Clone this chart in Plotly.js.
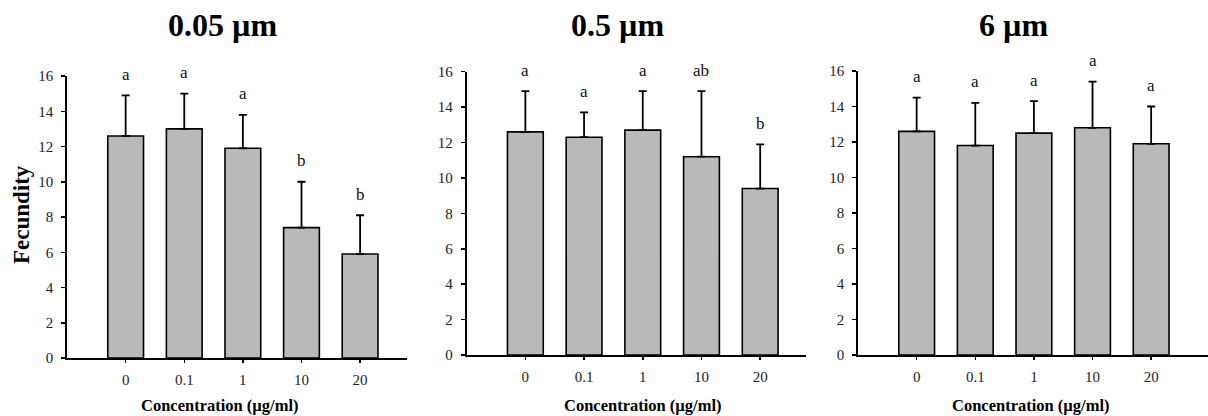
<!DOCTYPE html>
<html>
<head>
<meta charset="utf-8">
<script src="https://cdn.plot.ly/plotly-3.0.1.min.js"></script>
<style>html,body{margin:0;padding:0;background:#fff;}#chart{width:1208px;height:416px;}</style>
</head>
<body>
<div id="chart"></div>
<script>
// ---- data ----
const concentrations = ['0', '0.1', '1', '10', '20'];
const panelTitles = ['0.05 µm', '0.5 µm', '6 µm'];

const mean005 = [12.6, 13.0, 11.9, 7.4, 5.9];
const sd005   = [2.3, 2.0, 1.9, 2.6, 2.2];
const let005  = ['a', 'a', 'a', 'b', 'b'];

const mean05 = [12.6, 12.3, 12.7, 11.2, 9.4];
const sd05   = [2.3, 1.4, 2.2, 3.7, 2.5];
const let05  = ['a', 'a', 'a', 'ab', 'b'];

const mean6 = [12.6, 11.8, 12.5, 12.8, 11.9];
const sd6   = [1.9, 2.4, 1.8, 2.6, 2.1];
const let6  = ['a', 'a', 'a', 'a', 'a'];

const yTickVals = [0, 2, 4, 6, 8, 10, 12, 14, 16];
const yTitle = 'Fecundity';
const xTitle = 'Concentration (µg/ml)';

// ---- build ----
const serif = 'Liberation Serif, Times New Roman, serif';
const panels = [
  {mean: mean005, sd: sd005, letters: let005, xa: 'x', ya: 'y'},
  {mean: mean05, sd: sd05, letters: let05, xa: 'x2', ya: 'y2'},
  {mean: mean6, sd: sd6, letters: let6, xa: 'x3', ya: 'y3'}
];

const traces = panels.map(p => ({
  type: 'bar',
  x: concentrations,
  y: p.mean,
  xaxis: p.xa,
  yaxis: p.ya,
  marker: {color: '#b9b9b9', line: {color: '#000', width: 1.6}},
  error_y: {type: 'data', symmetric: false, array: p.sd, arrayminus: p.sd.map(() => 0),
            color: '#000', thickness: 1.8, width: 4},
  hoverinfo: 'skip',
  showlegend: false
}));

const annotations = [];
panels.forEach(p => {
  p.letters.forEach((l, i) => {
    annotations.push({
      xref: p.xa, yref: p.ya, x: i, y: p.mean[i] + p.sd[i],
      text: l, showarrow: false, yshift: 21, yanchor: 'middle',
      font: {family: serif, size: 17, color: '#111'}
    });
  });
});

const titleX = [0.1846, 0.5108, 0.8386];
const xTitleX = [0.1821, 0.5323, 0.8535];
panelTitles.forEach((t, i) => {
  annotations.push({xref: 'paper', yref: 'paper', x: titleX[i], y: 0.94, text: '<b>' + t + '</b>',
    showarrow: false, xanchor: 'center', yanchor: 'middle',
    font: {family: serif, size: 32, color: '#000'}});
  annotations.push({xref: 'paper', yref: 'paper', x: xTitleX[i], y: 0.026, text: '<b>' + xTitle + '</b>',
    showarrow: false, xanchor: 'center', yanchor: 'middle',
    font: {family: serif, size: 16.5, color: '#000'}});
});
annotations.push({xref: 'paper', yref: 'paper', x: 0.0174, y: 0.483, text: '<b>' + yTitle + '</b>',
  showarrow: false, textangle: -90, xanchor: 'center', yanchor: 'middle',
  font: {family: serif, size: 23, color: '#000'}});

function xax(domain, range) {
  return {domain: domain, type: 'category', range: range, showgrid: false, zeroline: false,
    showline: true, linecolor: '#000', linewidth: 1.8, ticks: 'outside', ticklen: 3, tickwidth: 1.5,
    tickcolor: '#000', ticklabelstandoff: 4,
    tickfont: {family: serif, size: 15, color: '#222'}, fixedrange: true};
}
function yax(domain, anchor) {
  return {domain: domain, anchor: anchor, range: [0, 16], tickvals: yTickVals, showgrid: false,
    zeroline: false, showline: true, linecolor: '#000', linewidth: 1.8, ticks: 'outside', ticklen: 4,
    tickwidth: 1.5, tickcolor: '#000', ticklabelstandoff: 5,
    tickfont: {family: serif, size: 15, color: '#222'}, fixedrange: true};
}

const layout = {
  width: 1208, height: 416,
  margin: {l: 0, r: 0, t: 0, b: 0},
  paper_bgcolor: '#fff', plot_bgcolor: '#fff',
  bargap: 0.39,
  xaxis:  Object.assign(xax([0.0555, 0.3369], [-1, 4.8]), {anchor: 'y'}),
  xaxis2: Object.assign(xax([0.3863, 0.6672], [-1, 4.78]), {anchor: 'y2'}),
  xaxis3: Object.assign(xax([0.7103, 1.0], [-1, 4.97]), {anchor: 'y3'}),
  yaxis:  yax([0.1394, 0.8173], 'x'),
  yaxis2: yax([0.1466, 0.8277], 'x2'),
  yaxis3: yax([0.1466, 0.8293], 'x3'),
  annotations: annotations
};

Plotly.newPlot('chart', traces, layout, {displayModeBar: false, staticPlot: true});
</script>
</body>
</html>
